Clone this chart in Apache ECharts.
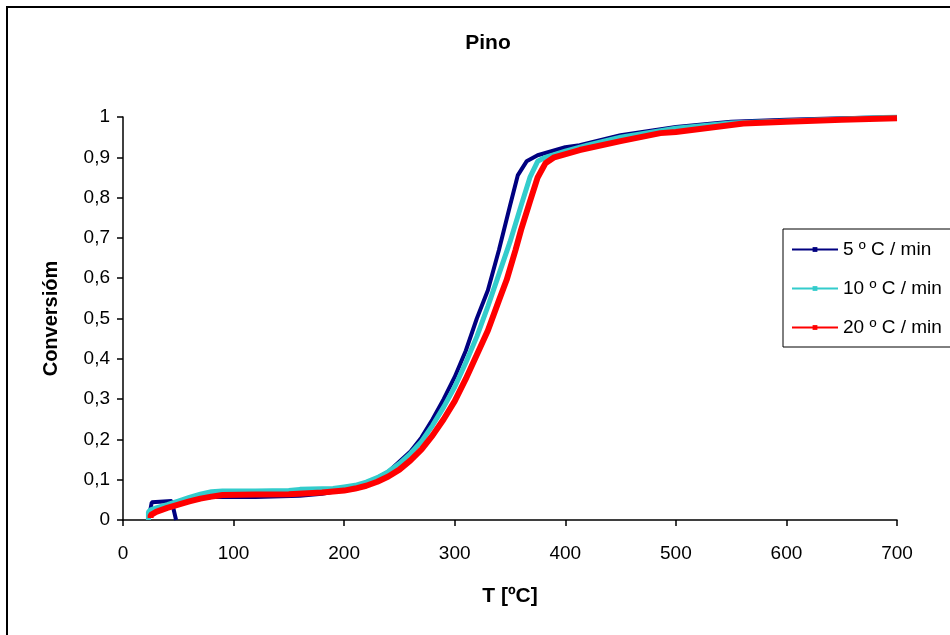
<!DOCTYPE html>
<html>
<head>
<meta charset="utf-8">
<script src="https://cdn.jsdelivr.net/npm/echarts@6/dist/echarts.min.js"></script>
<style>
html,body{margin:0;padding:0;background:#fff;}
#chart{width:950px;height:635px;}
</style>
</head>
<body>
<div id="chart"></div>
<script>
const titleText = 'Pino';
const xName = 'T [ºC]';
const yName = 'Conversióm';
const seriesNames = ['5 º C / min', '10 º C / min', '20 º C / min'];
const xTicks = [0, 100, 200, 300, 400, 500, 600, 700];

// 5 ºC/min  [T, conversion]
const s5 = [[24,0.015],[26,0.044],[44,0.047],[48,0.0],'-',
  [50,0.04],[60,0.05],[80,0.057],[120,0.057],[160,0.06],[180,0.065],[200,0.075],[220,0.09],
  [240,0.12],[260,0.17],[270,0.205],[280,0.25],[290,0.3],[300,0.355],[310,0.42],[320,0.5],
  [330,0.57],[340,0.67],[350,0.78],[357,0.855],[365,0.89],[375,0.905],[400,0.925],[413,0.93],
  [450,0.955],[500,0.975],[550,0.988],[600,0.993],[650,0.997],[700,1.0]];
// 10 ºC/min
const s10 = [[23,0.0],[23,0.02],[25,0.025],[30,0.03],[40,0.038],[50,0.047],[60,0.056],[70,0.064],[80,0.07],
  [90,0.072],[120,0.072],[150,0.073],[160,0.076],[190,0.078],[200,0.082],[210,0.086],[220,0.094],
  [230,0.105],[240,0.12],[250,0.14],[260,0.165],[270,0.195],[280,0.235],[290,0.28],[300,0.33],
  [310,0.39],[320,0.455],[330,0.53],[340,0.61],[350,0.69],[360,0.78],[368,0.85],[375,0.89],
  [382,0.9],[400,0.915],[420,0.93],[450,0.95],[500,0.972],[550,0.985],[600,0.99],[650,0.995],[700,1.0]];
// 20 ºC/min
const s20 = [[25,0.005],[25,0.012],[30,0.02],[40,0.03],[50,0.038],[60,0.046],[70,0.053],[80,0.058],[90,0.062],
  [120,0.063],[150,0.064],[180,0.068],[200,0.073],[210,0.078],[220,0.085],[230,0.095],[240,0.108],
  [250,0.125],[260,0.148],[270,0.175],[280,0.21],[290,0.25],[300,0.295],[310,0.35],[320,0.41],
  [330,0.47],[340,0.545],[347,0.596],[355,0.67],[360,0.72],[368,0.79],[375,0.85],[382,0.885],
  [390,0.9],[413,0.918],[450,0.94],[486,0.96],[500,0.963],[561,0.984],[600,0.988],[650,0.993],[700,0.997]];

const colors = ['#000080', '#33CCCC', '#FF0000'];
const widths = [4, 5, 6];
const FONT = '"Liberation Sans", Arial, sans-serif';

const chart = echarts.init(document.getElementById('chart'), null, {renderer: 'canvas'});
const allData = [s5, s10, s20];
chart.setOption({
  animation: false,
  backgroundColor: '#fff',
  textStyle: {fontFamily: FONT},
  title: {
    text: titleText, left: 483, top: 28, textAlign: 'center',
    textStyle: {fontFamily: FONT, fontSize: 21, fontWeight: 'bold', color: '#000'}
  },
  graphic: [{
    type: 'rect', shape: {x: 7, y: 7, width: 1000, height: 1000},
    style: {fill: 'none', stroke: '#000', lineWidth: 2}, silent: true, z: -1
  }],
  grid: {left: 123, top: 117, right: 53, bottom: 115, containLabel: false},
  legend: {
    left: 783, top: 229, orient: 'vertical',
    backgroundColor: '#fff', borderColor: '#000', borderWidth: 1,
    padding: [11, 80, 10, 8], itemWidth: 46, itemHeight: 6, itemGap: 20,
    lineStyle: {width: 2},
    textStyle: {fontFamily: FONT, fontSize: 19, color: '#000'},
    data: seriesNames
  },
  xAxis: {
    type: 'value', min: 0, max: 700, interval: 100,
    name: xName, nameLocation: 'middle', nameGap: 66,
    nameTextStyle: {fontFamily: FONT, fontSize: 21, fontWeight: 'bold', color: '#000'},
    axisLine: {lineStyle: {color: '#000', width: 1.5}},
    axisTick: {inside: false, length: 6, lineStyle: {color: '#000', width: 1.5}},
    axisLabel: {fontFamily: FONT, fontSize: 19, color: '#000', margin: 24,
      formatter: v => xTicks.includes(v) ? String(v) : ''},
    splitLine: {show: false}
  },
  yAxis: {
    type: 'value', min: 0, max: 1, interval: 0.1,
    name: yName, nameLocation: 'middle', nameGap: 62,
    nameTextStyle: {fontFamily: FONT, fontSize: 20, fontWeight: 'bold', color: '#000'},
    axisLine: {show: true, lineStyle: {color: '#000', width: 1.5}},
    axisTick: {show: true, inside: false, length: 6, lineStyle: {color: '#000', width: 1.5}},
    axisLabel: {fontFamily: FONT, fontSize: 19, color: '#000', margin: 13,
      formatter: v => String(Math.round(v * 10) / 10).replace('.', ',')},
    splitLine: {show: false}
  },
  series: allData.map((d, i) => ({
    name: seriesNames[i], type: 'line', data: d,
    symbol: 'rect', symbolSize: 5, showSymbol: false,
    connectNulls: false,
    lineStyle: {color: colors[i], width: widths[i]},
    itemStyle: {color: colors[i]},
    z: 2 + i
  }))
});
</script>
</body>
</html>
